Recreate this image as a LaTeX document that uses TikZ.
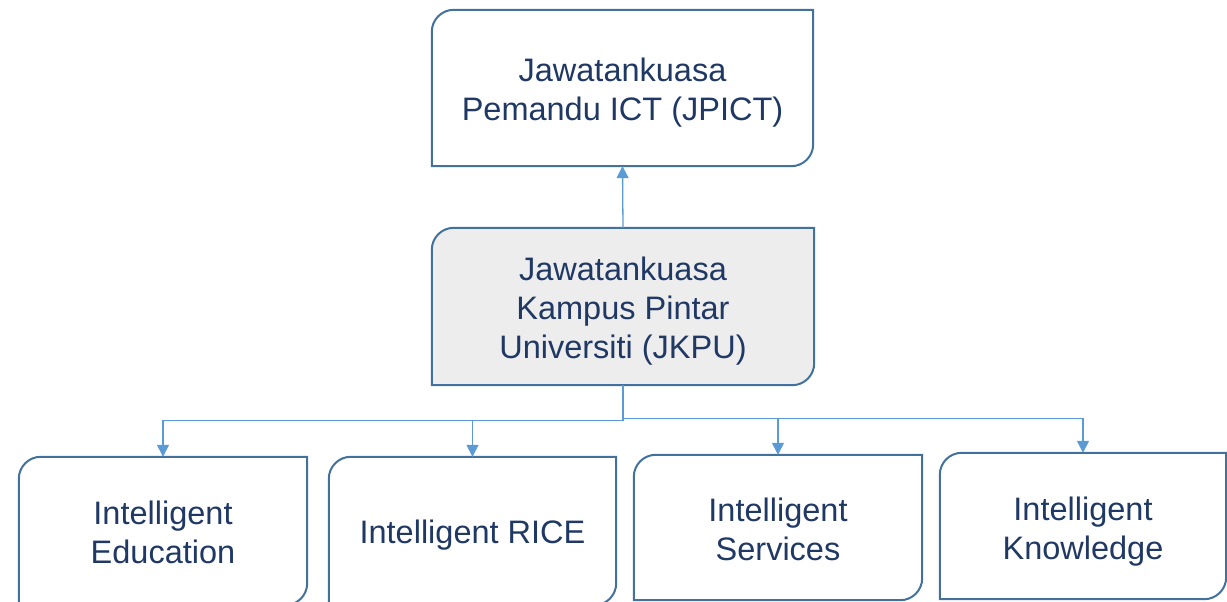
\documentclass[tikz,border=0pt]{standalone}
\usepackage{fontspec}
\setmainfont{Liberation Sans}
\usetikzlibrary{arrows.meta,backgrounds}
\definecolor{boxblue}{RGB}{65,113,156}
\definecolor{connblue}{RGB}{91,155,213}
\definecolor{txtnavy}{RGB}{31,56,100}
\definecolor{boxgray}{RGB}{237,237,237}
\tikzset{
  boxnode/.style={draw=none, inner sep=0pt},
  boxtext/.style={inner sep=0pt, align=center, text=txtnavy,
    font=\fontsize{32.5}{39}\selectfont},
  boxline/.style={draw=boxblue, line width=2pt},
  conn/.style={draw=connblue, line width=1.3pt, -{Triangle[width=12pt,length=12pt]}}
}
\newcommand\snipbox[2][]{%
  \path[boxline,#1] (#2.south west) -- ([yshift=-22pt]#2.north west)
    arc[start angle=180,end angle=90,radius=22pt] -- (#2.north east)
    -- ([yshift=22pt]#2.south east)
    arc[start angle=0,end angle=-90,radius=22pt] -- cycle;}
\begin{document}
\begin{tikzpicture}[x=1pt,y=1pt]
\useasboundingbox (0,0) rectangle (1227,-602);
\node[boxnode, minimum width=381pt, minimum height=156pt] (jpict) at (622.5,-88) {};
\node[boxnode, minimum width=382pt, minimum height=157pt] (jkpu) at (623,-306.5) {};
\node[boxnode, minimum width=288pt, minimum height=148pt] (edu) at (163,-531) {};
\node[boxnode, minimum width=287pt, minimum height=148pt] (rice) at (472.5,-531) {};
\node[boxnode, minimum width=288pt, minimum height=145pt] (serv) at (778,-527.5) {};
\node[boxnode, minimum width=286pt, minimum height=146pt] (know) at (1083,-526) {};
\begin{scope}[on background layer]
\snipbox{jpict}
\snipbox[fill=boxgray]{jkpu}
\snipbox{edu}
\snipbox{rice}
\snipbox{serv}
\snipbox{know}
\end{scope}
\node[boxtext] (jpictT) at ([yshift=-5pt]jpict.center) {Jawatankuasa\\Pemandu ICT (JPICT)};
\node[boxtext] (jkpuT) at ([yshift=-5pt]jkpu.center) {Jawatankuasa\\Kampus Pintar\\Universiti (JKPU)};
\node[boxtext] (eduT) at ([yshift=-1pt]edu.center) {Intelligent\\Education};
\node[boxtext] (riceT) at ([yshift=-4pt]rice.center) {Intelligent RICE};
\node[boxtext] (servT) at ([yshift=-2pt]serv.center) {Intelligent\\Services};
\node[boxtext] (knowT) at ([yshift=-6pt]know.center) {Intelligent\\Knowledge};
\draw[conn] (jkpu.north) -- (jpict.south);
\draw[conn] (jkpu.south) -- ++(0,-35) -| (edu.north);
\draw[conn] (jkpu.south) -- ++(0,-35) -| (rice.north);
\draw[conn] (jkpu.south) -- ++(0,-33) -| (serv.north);
\draw[conn] (jkpu.south) -- ++(0,-33) -| (know.north);
\end{tikzpicture}
\end{document}
